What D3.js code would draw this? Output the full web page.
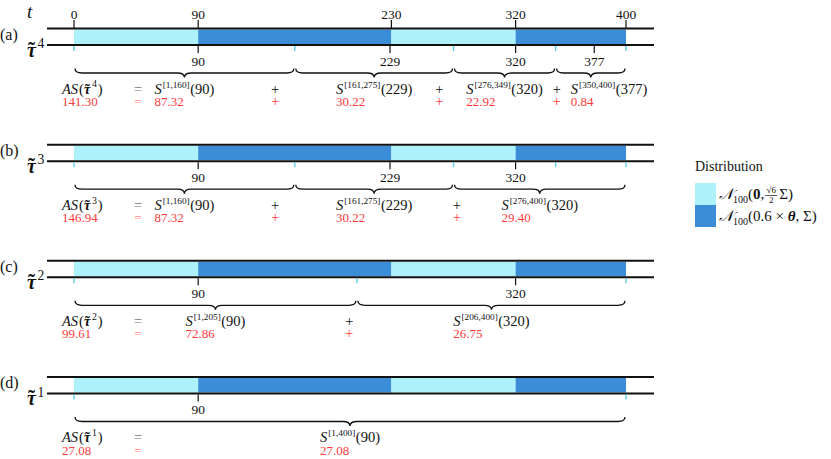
<!DOCTYPE html>
<html>
<head>
<meta charset="utf-8">
<script src="https://cdn.jsdelivr.net/npm/d3@7"></script>
<style>
body{margin:0;background:#fff}
text{font-family:"Liberation Serif","DejaVu Serif",serif;fill:#111}
</style>
</head>
<body>
<div id="chart"></div>
<script>

// -----------------------------
// DATA
// -----------------------------

const tTicks = [0,90,230,320,400]
const distSegments = [[0,90],[90,230],[230,320],[320,400]]
const distClass = [0,1,0,1]

const panelIds = ["a","b","c","d"]
const panelK = [4,3,2,1]
const panelSegments = [
[[1,160],[161,275],[276,349],[350,400]],
[[1,160],[161,275],[276,400]],
[[1,205],[206,400]],
[[1,400]]
]
const panelTaus = [[90,229,320,377],[90,229,320],[90,320],[90]]
const panelGrid = [[0,160,275,349,400],[0,160,275,349,400],[0,205,400],[0,400]]
const panelScores = [[87.32,30.22,22.92,0.84],[87.32,30.22,29.40],[72.86,26.75],[27.08]]
const panelTotals = [141.30,146.94,99.61,27.08]


// -----------------------------
// SETUP
// -----------------------------

const width = 831
const height = 459

const svg = d3.select("#chart")
.append("svg")
.attr("width",width)
.attr("height",height)
.attr("font-family","'Liberation Serif','DejaVu Serif',serif")

const x = d3.scaleLinear()
.domain([0,400])
.range([74,626])

const yTop = d3.scalePoint()
.domain(panelIds)
.range([28.5,377])

const color = d3.scaleOrdinal()
.domain([0,1])
.range(["#adf2fa","#3a8dd6"])

const red = "#ff3b3b"
const barH = 16.5
const fs = 13.5
const fm = 14.5
const fr = 13

function brace(x1,x2,y,h){
const m = (x1+x2)/2
const q = Math.min(7,(x2-x1)/8)
const yh = y+h/2
return `M${x1},${y} Q${x1},${yh} ${x1+q},${yh} L${m-q},${yh} Q${m},${yh} ${m},${y+h} Q${m},${yh} ${m+q},${yh} L${x2-q},${yh} Q${x2},${yh} ${x2},${y}`
}

// lays out a little formula piece by piece, returns group + width
function mathRun(parent,y,size,pieces){
const g = parent.append("g")
let cx = 0
pieces.forEach(p=>{
if(p.tau!==undefined){
// tau, tilde and superscript in one text element
const t = g.append("text").attr("x",cx).attr("y",y).attr("font-size",size)
const tau = t.append("tspan").attr("font-weight","bold").attr("font-style","italic").text("\u03C4")
const w = tau.node().getComputedTextLength()
const tl = t.append("tspan").attr("font-weight","bold").attr("font-size",size*1.05).text("\u02DC")
const tw = tl.node().getComputedTextLength()
tl.attr("dx",-(w+tw)/2)
const sp = t.append("tspan").attr("font-size",size*0.68).attr("dy",-size*0.42)
.attr("dx",(w-tw)/2+1.5).text(p.tau)
const sw = sp.node().getComputedTextLength()
cx += w+1.5+sw+1
} else if(p.sup!==undefined){
const s = g.append("text").attr("x",cx).attr("y",y-size*0.38).attr("font-size",size*0.64).text(p.sup)
cx += s.node().getComputedTextLength()+0.5
} else {
const t = g.append("text").attr("x",cx).attr("y",y).attr("font-size",size)
.attr("font-style",p.it?"italic":null).text(p.s)
cx += t.node().getComputedTextLength()+(p.it?1:0)
}
})
return {g:g,width:cx}
}


// -----------------------------
// TIME AXIS (TOP)
// -----------------------------

svg.append("text")
.attr("x",27)
.attr("y",18)
.attr("font-size",19)
.attr("font-style","italic")
.text("t")

svg.selectAll(".tTick")
.data(tTicks)
.enter()
.append("line")
.attr("x1",d=>x(d))
.attr("x2",d=>x(d))
.attr("y1",yTop("a")-8.5)
.attr("y2",yTop("a"))
.attr("stroke","#111")
.attr("stroke-width",1.2)

svg.selectAll(".tLab")
.data(tTicks)
.enter()
.append("text")
.attr("x",d=>x(d))
.attr("y",yTop("a")-10)
.attr("text-anchor","middle")
.attr("font-size",fs)
.text(d=>d)


// -----------------------------
// PANELS
// -----------------------------

panelIds.forEach((id,i)=>{

const top = yTop(id)
const bot = top+barH
const g = svg.append("g")

// distribution bar
g.selectAll("rect")
.data(distSegments)
.enter()
.append("rect")
.attr("x",d=>x(d[0]))
.attr("width",d=>x(d[1])-x(d[0]))
.attr("y",top+1)
.attr("height",barH-2)
.attr("fill",(d,j)=>color(distClass[j]))

// rails
g.selectAll(".rail")
.data([top,bot])
.enter()
.append("line")
.attr("x1",x(0)-27)
.attr("x2",x(400)+28)
.attr("y1",d=>d)
.attr("y2",d=>d)
.attr("stroke","#111")
.attr("stroke-width",2)

// panel label
g.append("text")
.attr("x",0)
.attr("y",top+11)
.attr("font-size",16)
.text(`(${id})`)

const lab = mathRun(g,top+28,20,[{tau:panelK[i]}])
lab.g.attr("transform","translate(27,0)")

// segment boundaries
g.selectAll(".grid")
.data(panelGrid[i])
.enter()
.append("line")
.attr("x1",d=>x(d))
.attr("x2",d=>x(d))
.attr("y1",bot+1)
.attr("y2",bot+6)
.attr("stroke","#5ccde8")
.attr("stroke-width",1.4)

// change point estimates
g.selectAll(".tau")
.data(panelTaus[i])
.enter()
.append("line")
.attr("x1",d=>x(d))
.attr("x2",d=>x(d))
.attr("y1",bot+1)
.attr("y2",bot+8)
.attr("stroke","#111")
.attr("stroke-width",1.2)

g.selectAll(".tauLab")
.data(panelTaus[i])
.enter()
.append("text")
.attr("x",d=>x(d))
.attr("y",top+37)
.attr("text-anchor","middle")
.attr("font-size",fs)
.text(d=>d)

// braces
g.selectAll("path")
.data(panelSegments[i])
.enter()
.append("path")
.attr("d",d=>brace(x(d[0]-1)+1,x(d[1])-1,top+40,9))
.attr("fill","none")
.attr("stroke","#111")
.attr("stroke-width",1.3)

// formula rows
const yA = top+65
const yB = top+77.5

const as = mathRun(g,yA,fm,[{s:"AS",it:1},{s:"("},{tau:panelK[i]},{s:")"}])
as.g.attr("transform","translate(62,0)")

g.append("text").attr("x",138).attr("y",yA).attr("text-anchor","middle").attr("font-size",fm).style("fill","#777").text("=")
g.append("text").attr("x",62).attr("y",yB).attr("font-size",fr).style("fill",red).text(panelTotals[i].toFixed(2))
g.append("text").attr("x",138).attr("y",yB).attr("text-anchor","middle").attr("font-size",fr).style("fill","#ff8a8a").text("=")

// S terms centred under their segment, pushed right if they collide
const boxes = []
panelSegments[i].forEach((s,j)=>{
const term = mathRun(g,yA,fm,[{s:"S",it:1},{sup:`[${s[0]},${s[1]}]`},{s:`(${panelTaus[i][j]})`}])
let left = x((s[0]-1+s[1])/2)-term.width/2
if(j>0){
const prev = boxes[j-1]
left = Math.max(left,prev.left+prev.width+28)
}
term.g.attr("transform",`translate(${left},0)`)
boxes.push({left:left,width:term.width})
g.append("text")
.attr("x",left)
.attr("y",yB)
.attr("font-size",fr)
.style("fill",red)
.text(panelScores[i][j].toFixed(2))
})

d3.pairs(boxes).forEach(([p,q])=>{
const px = (p.left+p.width+q.left)/2
g.append("text").attr("x",px).attr("y",yA).attr("text-anchor","middle").attr("font-size",fm).text("+")
g.append("text").attr("x",px).attr("y",yB).attr("text-anchor","middle").attr("font-size",fr+1).style("fill",red).text("+")
})

})


// -----------------------------
// LEGEND
// -----------------------------

const leg = svg.append("g")

leg.append("text")
.attr("x",695)
.attr("y",171)
.attr("font-size",14)
.text("Distribution")

leg.selectAll("rect")
.data([0,1])
.enter()
.append("rect")
.attr("x",695)
.attr("y",d=>183+d*22)
.attr("width",21)
.attr("height",22)
.attr("fill",d=>color(d))

function addN(t){
t.append("tspan").attr("font-style","italic").attr("font-family","'DejaVu Serif',serif").text("\uD835\uDCA9")
t.append("tspan").attr("font-size",10).attr("dy",4).text("100")
t.append("tspan").attr("dy",-4).text("(")
}

const l1 = leg.append("text").attr("x",719).attr("y",199).attr("font-size",15)
addN(l1)
l1.append("tspan").attr("font-weight","bold").text("0")
l1.append("tspan").text(", ")
const b1 = l1.node().getBBox()
const fx = b1.x+b1.width+1
leg.append("text").attr("x",fx+6).attr("y",193).attr("text-anchor","middle").attr("font-size",9).text("\u221A6")
leg.append("line").attr("x1",fx).attr("x2",fx+12).attr("y1",195.5).attr("y2",195.5).attr("stroke","#111").attr("stroke-width",0.7)
leg.append("text").attr("x",fx+6).attr("y",203).attr("text-anchor","middle").attr("font-size",9).text("2")
leg.append("text").attr("x",fx+14).attr("y",199).attr("font-size",15).text("\u03A3)")

const l2 = leg.append("text").attr("x",719).attr("y",221).attr("font-size",15)
addN(l2)
l2.append("tspan").text("0.6 \u00D7 ")
l2.append("tspan").attr("font-weight","bold").attr("font-style","italic").text("\u03B8")
l2.append("tspan").text(", \u03A3)")

</script>
</body>
</html>
